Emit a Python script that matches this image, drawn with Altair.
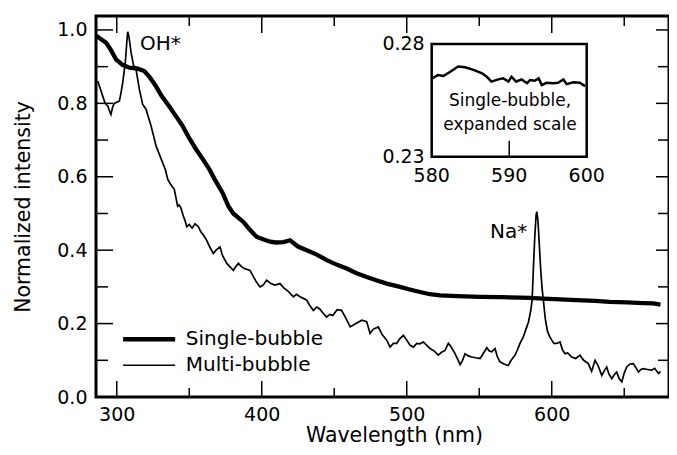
import altair as alt
import pandas as pd

# ---------------- data ----------------
sb_nm = [286, 289, 292.7, 296, 299.5, 304, 308.7, 314, 319, 323, 327, 331, 336, 340,
         345.5, 350, 354.7, 359, 363.9, 368, 373, 377, 380.4, 384, 387.3, 392, 396.6,
         401, 405.7, 410, 415, 419.5, 425, 431, 438, 444.8, 452, 458.6, 465, 472.4,
         479, 486.2, 495.4, 502, 509.2, 516, 523, 535, 550.6, 565, 578, 585, 594,
         605.7, 617, 630, 640, 652, 663, 670, 675]
sb_val = [0.984, 0.975, 0.965, 0.945, 0.92, 0.905, 0.897, 0.895, 0.888, 0.87, 0.847,
          0.82, 0.793, 0.77, 0.738, 0.705, 0.675, 0.65, 0.62, 0.59, 0.556, 0.52, 0.50,
          0.488, 0.477, 0.455, 0.436, 0.43, 0.423, 0.421, 0.422, 0.427, 0.41, 0.40,
          0.388, 0.373, 0.36, 0.35, 0.338, 0.327, 0.318, 0.309, 0.30, 0.293, 0.286,
          0.28, 0.277, 0.275, 0.273, 0.272, 0.271, 0.270, 0.268, 0.266, 0.264, 0.262,
          0.259, 0.258, 0.256, 0.255, 0.252]

mb_nm = [286.9, 290.3, 292, 293.8, 295, 296, 297.2, 298.3, 300, 301.8, 303, 304.1,
         305.9, 307, 307.6, 308.5, 309.9, 311.5, 313.3, 315.6, 317.9, 320.2, 322,
         323.7, 325.5, 327.1, 329, 331.7, 333.5, 335.2, 337, 339.7, 342, 343, 344.3,
         345.9, 347, 348.3, 350, 352, 354, 356.3, 358, 360, 362, 364, 366.6, 368.5,
         371.2, 373, 375.9, 378, 380.4, 382, 383.9, 386, 388, 391.9, 394, 396, 398.8,
         401, 403.4, 406, 409, 412.6, 415, 417.2, 419, 421.8, 424, 426.4, 429, 431,
         433, 435.6, 438, 440, 442, 444.8, 447, 449, 452, 455, 458, 461, 465, 469,
         472.4, 474.7, 477, 480.4, 483, 486.2, 488.5, 490.8, 493.1, 495, 497.7, 500,
         502.3, 504.6, 506.9, 509, 511.5, 514, 516.1, 519, 521.8, 524, 526.4, 528.7,
         530, 533.3, 535.5, 536.8, 538.5, 540.2, 542.5, 544.8, 547.5, 550.6, 553,
         555.2, 557, 558.6, 560.9, 562.5, 564.3, 567, 570, 572, 574.7, 576.5, 578.1,
         580.4, 582.8, 584, 585.5, 586.5, 587.3, 588.3, 589.2, 589.7, 590.5, 591.5,
         592.5, 593.5, 594.2, 595.5, 597.0, 598.5, 600, 601.5, 603.4, 605.7, 607.5,
         609.2, 611, 613.8, 616.5, 619.5, 622, 625.2, 627.5, 629.9, 632, 634.5, 636,
         637.9, 639.5, 641.4, 643, 644.8, 646.5, 648.3, 650, 651.7, 654, 656.3, 658,
         659.8, 661.5, 663.2, 666, 669, 671, 673.6, 675]
mb_val = [0.861, 0.82, 0.80, 0.793, 0.78, 0.77, 0.79, 0.80, 0.803, 0.806, 0.83, 0.856,
          0.911, 0.97, 0.995, 0.98, 0.938, 0.905, 0.893, 0.838, 0.797, 0.784, 0.76,
          0.738, 0.71, 0.684, 0.665, 0.638, 0.62, 0.593, 0.58, 0.566, 0.52, 0.523,
          0.515, 0.493, 0.482, 0.464, 0.47, 0.46, 0.472, 0.464, 0.45, 0.44, 0.427,
          0.41, 0.391, 0.40, 0.409, 0.385, 0.364, 0.355, 0.345, 0.355, 0.364, 0.355,
          0.35, 0.345, 0.33, 0.315, 0.30, 0.305, 0.318, 0.31, 0.305, 0.309, 0.298,
          0.291, 0.285, 0.273, 0.28, 0.273, 0.268, 0.264, 0.25, 0.236, 0.245, 0.24,
          0.23, 0.218, 0.225, 0.222, 0.238, 0.236, 0.215, 0.191, 0.2, 0.209, 0.205,
          0.173, 0.185, 0.191, 0.17, 0.155, 0.136, 0.146, 0.146, 0.158, 0.168, 0.155,
          0.141, 0.136, 0.146, 0.145, 0.15, 0.14, 0.132, 0.125, 0.114, 0.122, 0.127,
          0.146, 0.14, 0.118, 0.1, 0.088, 0.1, 0.118, 0.112, 0.109, 0.107, 0.105,
          0.12, 0.134, 0.125, 0.123, 0.132, 0.11, 0.096, 0.09, 0.086, 0.1, 0.114,
          0.13, 0.146, 0.164, 0.191, 0.205, 0.235, 0.265, 0.345, 0.436, 0.495, 0.505,
          0.48, 0.41, 0.34, 0.29, 0.265, 0.215, 0.18, 0.165, 0.155, 0.146, 0.146,
          0.15, 0.128, 0.118, 0.12, 0.109, 0.105, 0.114, 0.1, 0.091, 0.07, 0.1, 0.085,
          0.059, 0.07, 0.082, 0.062, 0.05, 0.06, 0.068, 0.05, 0.041, 0.065, 0.082,
          0.09, 0.091, 0.08, 0.068, 0.075, 0.077, 0.075, 0.073, 0.078, 0.064, 0.07]

inset_nm = [580.1, 580.8, 581.5, 582.4, 583.4, 584.3, 585.4, 586.5, 587.1, 587.7,
            588.6, 589.2, 589.9, 590.3, 590.9, 591.6, 592.3, 592.7, 593.3, 593.8,
            594.2, 594.8, 595.7, 596.3, 597.0, 597.4, 598.3, 599.1, 599.8]
inset_val = [0.2648, 0.2662, 0.2658, 0.2677, 0.2700, 0.2697, 0.2685, 0.2670, 0.2655,
             0.2633, 0.2643, 0.2648, 0.2633, 0.2655, 0.2633, 0.2643, 0.2626, 0.2640,
             0.2637, 0.2648, 0.2618, 0.2628, 0.2626, 0.2628, 0.2643, 0.2622, 0.2630,
             0.2628, 0.2613]

x_major = [300, 400, 500, 600]
x_minor = [350, 450, 550, 650]
y_major = [0.0, 0.2, 0.4, 0.6, 0.8, 1.0]
y_minor = [0.1, 0.3, 0.5, 0.7, 0.9]
inset_x_ticks = [580, 590, 600]
inset_y_ticks = [0.23, 0.28]
inset_x_domain = [580, 600]
inset_y_domain = [0.23, 0.28]
series_names = ["Single-bubble", "Multi-bubble"]

# ---------------- layout / style ----------------
W, H = 573, 381
FONT = "DejaVu Sans"
FS = 19          # tick labels
FS_TITLE = 20.5  # axis titles
FS_TEXT = 20     # legend and peak labels
X_DOMAIN = [285.7, 285.7 + W / 1.45]
Y_DOMAIN = [0, 1.038]
xs = alt.Scale(domain=X_DOMAIN, nice=False, zero=False)
ys = alt.Scale(domain=Y_DOMAIN, nice=False, zero=False)

# where the inset box sits, expressed in the main chart's data units
IX0, IX1 = 517.22, 624.11
IY0, IY1 = 0.6547, 0.9617

x_axis = alt.Axis(values=x_major, ticks=False, domain=False, grid=False,
                  labelFont=FONT, labelFontSize=FS, labelPadding=8, labelColor="black",
                  labelFlush=False, title="Wavelength (nm)", titleFont=FONT,
                  titleFontSize=FS_TITLE, titleFontWeight="normal", titleColor="black",
                  titleX=298, titleY=38, titleBaseline="middle", titleAlign="center")
y_axis = alt.Axis(values=y_major, format=".1f", ticks=False, domain=False,
                  grid=False, labelFont=FONT, labelFontSize=FS, labelPadding=9,
                  labelColor="black", labelFlush=False, title="Normalized intensity",
                  titleFont=FONT, titleFontSize=FS_TITLE, titleFontWeight="normal",
                  titleColor="black", titleX=-73, titleY=H / 2, titleAngle=270,
                  titleBaseline="middle", titleAlign="center")

sb = pd.DataFrame({"nm": sb_nm, "val": sb_val})
mb = pd.DataFrame({"nm": mb_nm, "val": mb_val})
ins = pd.DataFrame({"nm": inset_nm, "val": inset_val})


def X(f, axis=alt.Undefined):
    return alt.X(f, type="quantitative", scale=xs, axis=axis)


def Y(f, axis=alt.Undefined):
    return alt.Y(f, type="quantitative", scale=ys, axis=axis)


def ix_expr(field):
    a, b = inset_x_domain
    return f"{IX0} + (datum.{field} - {a}) / {b - a} * {IX1 - IX0}"


def iy_expr(field):
    a, b = inset_y_domain
    return f"{IY0} + (datum.{field} - {a}) / {b - a} * {IY1 - IY0}"


def xticks(vals, y0, y1):
    return alt.Chart(pd.DataFrame({"v": vals})).mark_rule(
        color="black", strokeWidth=1.5).encode(
        x=X("v"), y=alt.value(y0), y2=alt.value(y1))


def yticks(vals, x0, x1):
    return alt.Chart(pd.DataFrame({"v": vals})).mark_rule(
        color="black", strokeWidth=1.5).encode(
        y=Y("v"), x=alt.value(x0), x2=alt.value(x1))


# the first layer carries the axes; the others leave them unspecified so they merge
thin = alt.Chart(mb).mark_line(color="black", strokeWidth=1.7).encode(
    x=X("nm", axis=x_axis), y=Y("val", axis=y_axis))
thick = alt.Chart(sb).mark_line(color="black", strokeWidth=4.3).encode(
    x=X("nm"), y=Y("val"))

tick_layers = [
    xticks(x_major, H, H - 16), xticks(x_minor, H, H - 9),
    xticks(x_major, 1, 17), xticks(x_minor, 1, 10),
    yticks(y_major, 1, 17), yticks(y_minor, 1, 12),
    yticks(y_major, W, W - 13), yticks(y_minor, W, W - 11),
]

ann = pd.DataFrame({"t": ["OH*", "Na*"], "x": [316.1, 557.4], "y": [0.961, 0.45]})
ann_text = alt.Chart(ann).mark_text(font=FONT, fontSize=FS_TEXT, align="left",
                                    baseline="middle", color="black").encode(
    x=X("x"), y=Y("y"), text="t:N")

leg = pd.DataFrame({"s": series_names, "x0": [304.4, 304.4], "x1": [340.3, 340.3],
                    "tx": [347.6, 347.6], "y": [0.157, 0.0864]})
leg_lines = alt.Chart(leg).mark_rule(color="black").encode(
    x=X("x0"), x2="x1", y=Y("y"),
    strokeWidth=alt.StrokeWidth("s:N", scale=alt.Scale(domain=series_names,
                                                       range=[4.5, 1.6]), legend=None))
leg_text = alt.Chart(leg).mark_text(font=FONT, fontSize=FS_TEXT, align="left",
                                    baseline="middle", color="black").encode(
    x=X("tx"), y=Y("y"), text="s:N")

# ---------------- inset (its own 580-600 / 0.23-0.28 frame) ----------------
box = alt.Chart(pd.DataFrame({"a": [inset_x_domain[0]], "b": [inset_x_domain[1]],
                              "c": [inset_y_domain[0]], "d": [inset_y_domain[1]]})).transform_calculate(
    x0=ix_expr("a"), x1=ix_expr("b"), y0=iy_expr("c"), y1=iy_expr("d")).mark_rect(
    fill="white", stroke="black", strokeWidth=2.5).encode(
    x=X("x0:Q"), x2="x1:Q", y=Y("y0:Q"), y2="y1:Q")
inset_line = alt.Chart(ins).transform_calculate(
    px=ix_expr("nm"), py=iy_expr("val")).mark_line(color="black", strokeWidth=2.5).encode(
    x=X("px:Q"), y=Y("py:Q"), order="nm:Q")
inset_tick = alt.Chart(pd.DataFrame({"v": [590], "c": [0.23]})).transform_calculate(
    px=ix_expr("v"), py=iy_expr("c")).transform_calculate(
    py2="datum.py + 0.0435").mark_rule(color="black", strokeWidth=1.5).encode(
    x=X("px:Q"), y=Y("py:Q"), y2=alt.Y2("py2:Q"))
ixl = alt.Chart(pd.DataFrame({"v": inset_x_ticks, "c": [0.23] * 3})).transform_calculate(
    px=ix_expr("v"), py=iy_expr("c")).mark_text(
    font=FONT, fontSize=FS, align="center", baseline="middle", dy=19, color="black").encode(
    x=X("px:Q"), y=Y("py:Q"), text=alt.Text("v:Q", format="d"))
iyl = alt.Chart(pd.DataFrame({"v": inset_y_ticks, "a": [580] * 2})).transform_calculate(
    px=ix_expr("a"), py=iy_expr("v")).mark_text(
    font=FONT, fontSize=FS, align="right", baseline="middle", dx=-7, color="black").encode(
    x=X("px:Q"), y=Y("py:Q"), text=alt.Text("v:Q", format=".2f"))
inset_note = pd.DataFrame({"t": ["Single-bubble,", "expanded scale"],
                           "a": [590.1, 590.1], "c": [0.2545, 0.2442]})
inote = alt.Chart(inset_note).transform_calculate(
    px=ix_expr("a"), py=iy_expr("c")).mark_text(
    font=FONT, fontSize=17, align="center", baseline="middle", color="black").encode(
    x=X("px:Q"), y=Y("py:Q"), text="t:N")

chart = alt.layer(thin, thick, *tick_layers, ann_text, leg_lines, leg_text,
                  box, inset_line, inset_tick, ixl, iyl, inote).properties(
    width=W, height=H,
    autosize=alt.AutoSizeParams(type="none"),
    padding={"left": 88, "top": 8, "right": 0, "bottom": 50},
    background="white",
).configure_view(stroke="black", strokeWidth=3)

chart.save("out.html", embed_options={"renderer": "svg", "actions": False})
